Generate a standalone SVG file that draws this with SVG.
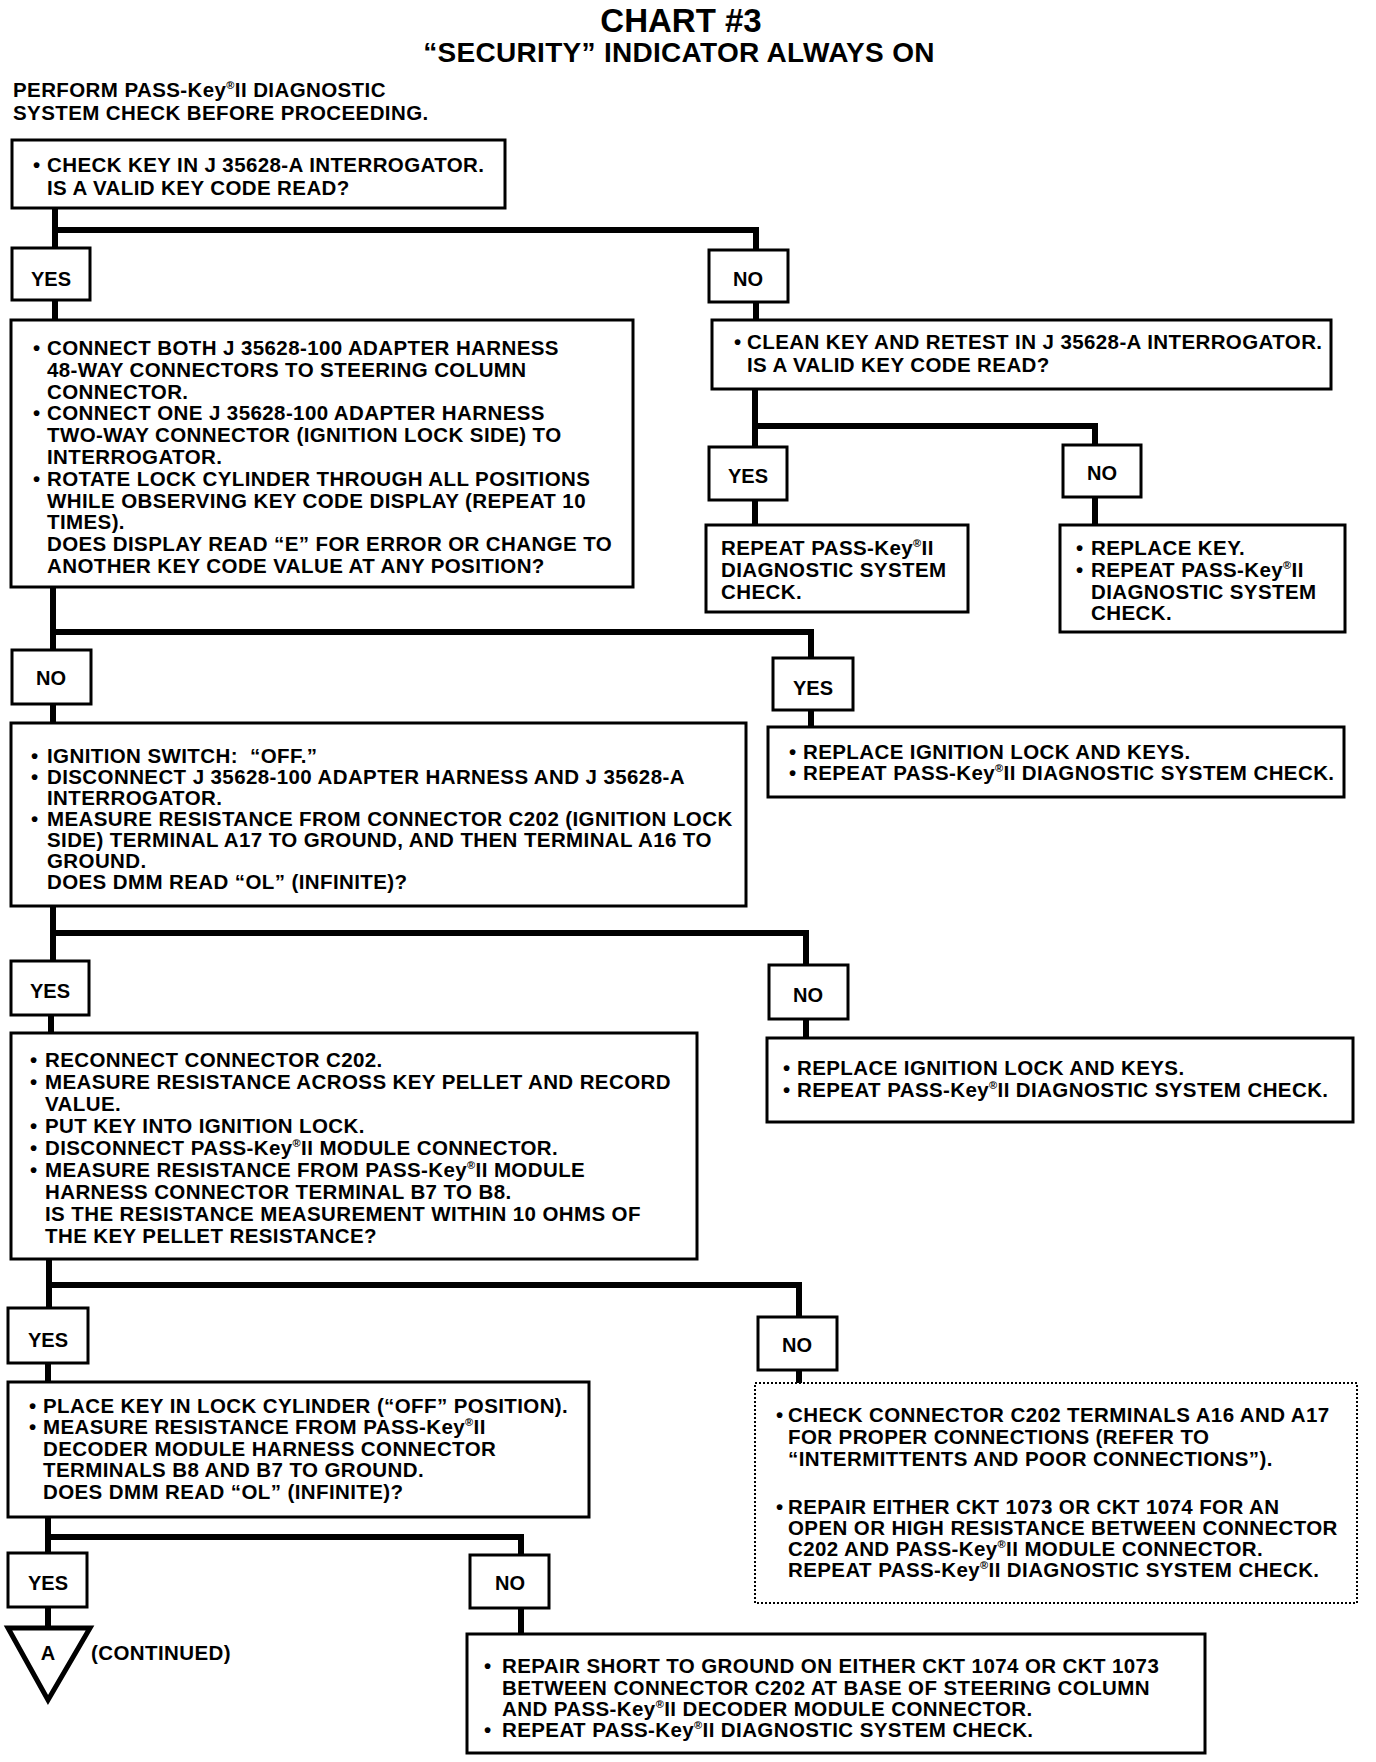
<svg xmlns="http://www.w3.org/2000/svg" width="1376" height="1762" viewBox="0 0 1376 1762">
<style>
.bg{fill:#fff}
.box{fill:#fff;stroke:#000;stroke-width:3}
.dot{fill:#fff;stroke:#000;stroke-width:2;stroke-dasharray:2 2}
.wire{fill:none;stroke:#000;stroke-width:6;stroke-linejoin:miter;stroke-linecap:butt}
text{font-family:"Liberation Sans",Arial,Helvetica,sans-serif;font-weight:bold;fill:#000}
.t{font-size:20.5px;letter-spacing:0.4px}
.lbl{font-size:20px;text-anchor:middle}
.title{font-size:33px;text-anchor:middle}
.sub{font-size:28px;text-anchor:middle;letter-spacing:0.3px}
.sup{font-size:11px}
</style>
<rect class="bg" x="0" y="0" width="1376" height="1762"/>
<g id="title">
<text class="title" x="681" y="32">CHART #3</text>
<text class="sub" x="679" y="62">“SECURITY” INDICATOR ALWAYS ON</text>
</g>
<g id="intro">
<text class="t" x="13" y="97">PERFORM PASS-Key<tspan class="sup" dy="-8">®</tspan><tspan dy="8">II DIAGNOSTIC</tspan></text>
<text class="t" x="13" y="120">SYSTEM CHECK BEFORE PROCEEDING.</text>
</g>
<g id="connectors">
<path class="wire" d="M55 208V248M55 230H756V250"/>
<path class="wire" d="M55 300V320"/>
<path class="wire" d="M756 302V320"/>
<path class="wire" d="M755 389V447M755 426H1095V445"/>
<path class="wire" d="M755 500V525"/>
<path class="wire" d="M1095 497V525"/>
<path class="wire" d="M53 587V650M53 632H811V658"/>
<path class="wire" d="M53 704V723"/>
<path class="wire" d="M811 710V727"/>
<path class="wire" d="M53 906V961M53 933H806V965"/>
<path class="wire" d="M51 1015V1033"/>
<path class="wire" d="M806 1019V1038"/>
<path class="wire" d="M49 1259V1308M49 1285H799V1317"/>
<path class="wire" d="M48 1363V1382"/>
<path class="wire" d="M799 1370V1383"/>
<path class="wire" d="M48 1517V1553M48 1537H521V1555"/>
<path class="wire" d="M48 1607V1628"/>
<path class="wire" d="M521 1608V1634"/>
</g>
<g id="n1">
<rect class="box" x="12" y="140" width="493" height="68"/>
<text class="t" x="33" y="172">•</text>
<text class="t" x="47" y="172">CHECK KEY IN J 35628-A INTERROGATOR.</text>
<text class="t" x="47" y="195">IS A VALID KEY CODE READ?</text>
</g>
<g id="n1yes"><rect class="box" x="12" y="248" width="78" height="52"/><text class="lbl" x="51" y="286">YES</text></g>
<g id="n1no"><rect class="box" x="709" y="250" width="79" height="52"/><text class="lbl" x="748" y="286">NO</text></g>
<g id="n2">
<rect class="box" x="11" y="320" width="622" height="267"/>
<text class="t" x="33" y="355">•</text>
<text class="t" x="47" y="355">CONNECT BOTH J 35628-100 ADAPTER HARNESS</text>
<text class="t" x="47" y="377">48-WAY CONNECTORS TO STEERING COLUMN</text>
<text class="t" x="47" y="399">CONNECTOR.</text>
<text class="t" x="33" y="420">•</text>
<text class="t" x="47" y="420">CONNECT ONE J 35628-100 ADAPTER HARNESS</text>
<text class="t" x="47" y="442">TWO-WAY CONNECTOR (IGNITION LOCK SIDE) TO</text>
<text class="t" x="47" y="464">INTERROGATOR.</text>
<text class="t" x="33" y="486">•</text>
<text class="t" x="47" y="486">ROTATE LOCK CYLINDER THROUGH ALL POSITIONS</text>
<text class="t" x="47" y="508">WHILE OBSERVING KEY CODE DISPLAY (REPEAT 10</text>
<text class="t" x="47" y="529">TIMES).</text>
<text class="t" x="47" y="551">DOES DISPLAY READ “E” FOR ERROR OR CHANGE TO</text>
<text class="t" x="47" y="573">ANOTHER KEY CODE VALUE AT ANY POSITION?</text>
</g>
<g id="n3">
<rect class="box" x="712" y="320" width="619" height="69"/>
<text class="t" x="734" y="349">•</text>
<text class="t" x="747" y="349">CLEAN KEY AND RETEST IN J 35628-A INTERROGATOR.</text>
<text class="t" x="747" y="372">IS A VALID KEY CODE READ?</text>
</g>
<g id="n3yes"><rect class="box" x="709" y="447" width="78" height="53"/><text class="lbl" x="748" y="483">YES</text></g>
<g id="n3no"><rect class="box" x="1063" y="445" width="78" height="52"/><text class="lbl" x="1102" y="480">NO</text></g>
<g id="n4">
<rect class="box" x="706" y="525" width="262" height="87"/>
<text class="t" x="721" y="555">REPEAT PASS-Key<tspan class="sup" dy="-8">®</tspan><tspan dy="8">II</tspan></text>
<text class="t" x="721" y="577">DIAGNOSTIC SYSTEM</text>
<text class="t" x="721" y="599">CHECK.</text>
</g>
<g id="n5">
<rect class="box" x="1060" y="525" width="285" height="107"/>
<text class="t" x="1076" y="555">•</text>
<text class="t" x="1091" y="555">REPLACE KEY.</text>
<text class="t" x="1076" y="577">•</text>
<text class="t" x="1091" y="577">REPEAT PASS-Key<tspan class="sup" dy="-8">®</tspan><tspan dy="8">II</tspan></text>
<text class="t" x="1091" y="599">DIAGNOSTIC SYSTEM</text>
<text class="t" x="1091" y="620">CHECK.</text>
</g>
<g id="n2no"><rect class="box" x="12" y="650" width="79" height="54"/><text class="lbl" x="51" y="685">NO</text></g>
<g id="n2yes"><rect class="box" x="773" y="658" width="80" height="52"/><text class="lbl" x="813" y="695">YES</text></g>
<g id="n6">
<rect class="box" x="11" y="723" width="735" height="183"/>
<text class="t" x="31" y="763">•</text>
<text class="t" x="47" y="763" xml:space="preserve">IGNITION SWITCH:  “OFF.”</text>
<text class="t" x="31" y="784">•</text>
<text class="t" x="47" y="784">DISCONNECT J 35628-100 ADAPTER HARNESS AND J 35628-A</text>
<text class="t" x="47" y="805">INTERROGATOR.</text>
<text class="t" x="31" y="826">•</text>
<text class="t" x="47" y="826">MEASURE RESISTANCE FROM CONNECTOR C202 (IGNITION LOCK</text>
<text class="t" x="47" y="847">SIDE) TERMINAL A17 TO GROUND, AND THEN TERMINAL A16 TO</text>
<text class="t" x="47" y="868">GROUND.</text>
<text class="t" x="47" y="889">DOES DMM READ “OL” (INFINITE)?</text>
</g>
<g id="n7">
<rect class="box" x="768" y="727" width="576" height="70"/>
<text class="t" x="789" y="759">•</text>
<text class="t" x="803" y="759">REPLACE IGNITION LOCK AND KEYS.</text>
<text class="t" x="789" y="780">•</text>
<text class="t" x="803" y="780">REPEAT PASS-Key<tspan class="sup" dy="-8">®</tspan><tspan dy="8">II DIAGNOSTIC SYSTEM CHECK.</tspan></text>
</g>
<g id="n6yes"><rect class="box" x="11" y="961" width="78" height="54"/><text class="lbl" x="50" y="998">YES</text></g>
<g id="n6no"><rect class="box" x="769" y="965" width="79" height="54"/><text class="lbl" x="808" y="1002">NO</text></g>
<g id="n8">
<rect class="box" x="11" y="1033" width="686" height="226"/>
<text class="t" x="30" y="1067">•</text>
<text class="t" x="45" y="1067">RECONNECT CONNECTOR C202.</text>
<text class="t" x="30" y="1089">•</text>
<text class="t" x="45" y="1089">MEASURE RESISTANCE ACROSS KEY PELLET AND RECORD</text>
<text class="t" x="45" y="1111">VALUE.</text>
<text class="t" x="30" y="1133">•</text>
<text class="t" x="45" y="1133">PUT KEY INTO IGNITION LOCK.</text>
<text class="t" x="30" y="1155">•</text>
<text class="t" x="45" y="1155">DISCONNECT PASS-Key<tspan class="sup" dy="-8">®</tspan><tspan dy="8">II MODULE CONNECTOR.</tspan></text>
<text class="t" x="30" y="1177">•</text>
<text class="t" x="45" y="1177">MEASURE RESISTANCE FROM PASS-Key<tspan class="sup" dy="-8">®</tspan><tspan dy="8">II MODULE</tspan></text>
<text class="t" x="45" y="1199">HARNESS CONNECTOR TERMINAL B7 TO B8.</text>
<text class="t" x="45" y="1221">IS THE RESISTANCE MEASUREMENT WITHIN 10 OHMS OF</text>
<text class="t" x="45" y="1243">THE KEY PELLET RESISTANCE?</text>
</g>
<g id="n9">
<rect class="box" x="767" y="1038" width="586" height="84"/>
<text class="t" x="783" y="1075">•</text>
<text class="t" x="797" y="1075">REPLACE IGNITION LOCK AND KEYS.</text>
<text class="t" x="783" y="1097">•</text>
<text class="t" x="797" y="1097">REPEAT PASS-Key<tspan class="sup" dy="-8">®</tspan><tspan dy="8">II DIAGNOSTIC SYSTEM CHECK.</tspan></text>
</g>
<g id="n8yes"><rect class="box" x="8" y="1308" width="80" height="55"/><text class="lbl" x="48" y="1347">YES</text></g>
<g id="n8no"><rect class="box" x="758" y="1317" width="79" height="53"/><text class="lbl" x="797" y="1352">NO</text></g>
<g id="n10">
<rect class="box" x="8" y="1382" width="581" height="135"/>
<text class="t" x="29" y="1413">•</text>
<text class="t" x="43" y="1413">PLACE KEY IN LOCK CYLINDER (“OFF” POSITION).</text>
<text class="t" x="29" y="1434">•</text>
<text class="t" x="43" y="1434">MEASURE RESISTANCE FROM PASS-Key<tspan class="sup" dy="-8">®</tspan><tspan dy="8">II</tspan></text>
<text class="t" x="43" y="1456">DECODER MODULE HARNESS CONNECTOR</text>
<text class="t" x="43" y="1477">TERMINALS B8 AND B7 TO GROUND.</text>
<text class="t" x="43" y="1499">DOES DMM READ “OL” (INFINITE)?</text>
</g>
<g id="n11">
<rect class="dot" x="755" y="1383" width="602" height="220"/>
<text class="t" x="776" y="1422">•</text>
<text class="t" x="788" y="1422">CHECK CONNECTOR C202 TERMINALS A16 AND A17</text>
<text class="t" x="788" y="1444">FOR PROPER CONNECTIONS (REFER TO</text>
<text class="t" x="788" y="1466">“INTERMITTENTS AND POOR CONNECTIONS”).</text>
<text class="t" x="776" y="1514">•</text>
<text class="t" x="788" y="1514">REPAIR EITHER CKT 1073 OR CKT 1074 FOR AN</text>
<text class="t" x="788" y="1535">OPEN OR HIGH RESISTANCE BETWEEN CONNECTOR</text>
<text class="t" x="788" y="1556">C202 AND PASS-Key<tspan class="sup" dy="-8">®</tspan><tspan dy="8">II MODULE CONNECTOR.</tspan></text>
<text class="t" x="788" y="1577">REPEAT PASS-Key<tspan class="sup" dy="-8">®</tspan><tspan dy="8">II DIAGNOSTIC SYSTEM CHECK.</tspan></text>
</g>
<g id="n10yes"><rect class="box" x="8" y="1553" width="79" height="54"/><text class="lbl" x="48" y="1590">YES</text></g>
<g id="n10no"><rect class="box" x="470" y="1555" width="79" height="53"/><text class="lbl" x="510" y="1590">NO</text></g>
<g id="nA">
<polygon points="8,1628 90,1628 48,1700" fill="#fff" stroke="#000" stroke-width="5" stroke-linejoin="miter"/>
<text class="lbl" x="48" y="1660">A</text>
<text class="t" x="91" y="1660">(CONTINUED)</text>
</g>
<g id="n12">
<rect class="box" x="467" y="1634" width="738" height="119"/>
<text class="t" x="484" y="1673">•</text>
<text class="t" x="502" y="1673">REPAIR SHORT TO GROUND ON EITHER CKT 1074 OR CKT 1073</text>
<text class="t" x="502" y="1695">BETWEEN CONNECTOR C202 AT BASE OF STEERING COLUMN</text>
<text class="t" x="502" y="1716">AND PASS-Key<tspan class="sup" dy="-8">®</tspan><tspan dy="8">II DECODER MODULE CONNECTOR.</tspan></text>
<text class="t" x="484" y="1737">•</text>
<text class="t" x="502" y="1737">REPEAT PASS-Key<tspan class="sup" dy="-8">®</tspan><tspan dy="8">II DIAGNOSTIC SYSTEM CHECK.</tspan></text>
</g>
</svg>
